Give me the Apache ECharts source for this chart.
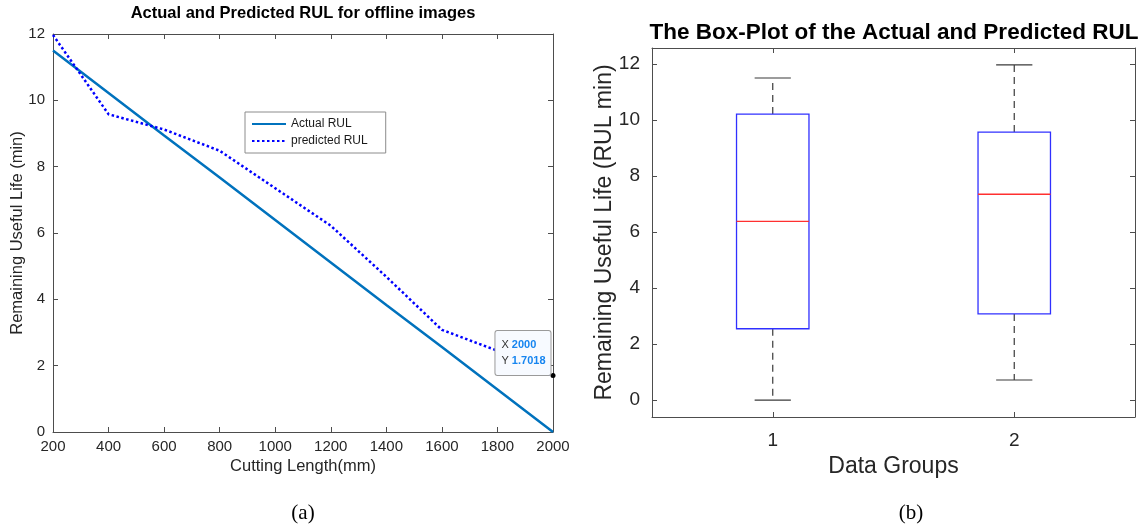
<!DOCTYPE html>
<html>
<head>
<meta charset="utf-8">
<script src="https://cdn.jsdelivr.net/npm/echarts@6/dist/echarts.min.js"></script>
<style>
  html, body { margin: 0; padding: 0; background: #fff; }
  #chart { width: 1146px; height: 528px; }
</style>
</head>
<body>
<div id="chart"></div>
<script>
// (a) RUL along the cutting length
const cuttingLength = [200, 400, 600, 800, 1000, 1200, 1400, 1600, 1800, 2000];
const actualRUL = [11.5, 10.22, 8.94, 7.67, 6.39, 5.11, 3.83, 2.56, 1.28, 0];
const predictedRUL = [11.97, 9.58, 9.12, 8.48, 7.35, 6.22, 4.68, 3.08, 2.45, 1.7018];

// (b) box statistics per group: [min, Q1, median, Q3, max]
const groups = ['1', '2'];
const boxStats = [
  [0, 2.55, 6.38, 10.21, 11.5],
  [0.72, 3.08, 7.35, 9.57, 11.97]
];
const rulTicks = [0, 2, 4, 6, 8, 10, 12];

const FONT = 'Liberation Sans, Arial, Helvetica, sans-serif';
const AXIS_COLOR = '#4d4d4d';
const TEXT_COLOR = '#262626';

const chart = echarts.init(document.getElementById('chart'), null, { renderer: 'canvas' });

function frameAxis(extra) {
  return Object.assign({
    axisLine: { show: true, onZero: false, lineStyle: { color: AXIS_COLOR, width: 1 } },
    axisTick: { show: true, inside: true, length: 5, lineStyle: { color: AXIS_COLOR } },
    splitLine: { show: false },
    nameMoveOverlap: false
  }, extra);
}

const tipIdx = cuttingLength.length - 1;
const tipX = cuttingLength[tipIdx];
const tipY = predictedRUL[tipIdx];

const option = {
  animation: false,
  textStyle: { fontFamily: FONT },
  grid: [
    { left: 53, right: 593, top: 34, bottom: 96 },
    { left: 652, right: 11, top: 48, bottom: 111 }
  ],
  xAxis: [
    frameAxis({
      type: 'value', gridIndex: 0, position: 'bottom', min: 200, max: 2000, interval: 200,
      name: 'Cutting Length(mm)', nameLocation: 'middle', nameGap: 26,
      nameTextStyle: { fontSize: 16.5, color: TEXT_COLOR },
      axisLabel: { fontSize: 15, color: TEXT_COLOR, margin: 7, formatter: v => String(v) }
    }),
    frameAxis({
      type: 'value', gridIndex: 0, position: 'top', min: 200, max: 2000, interval: 200,
      axisLabel: { show: false }
    }),
    frameAxis({
      type: 'category', gridIndex: 1, position: 'bottom', data: groups,
      axisTick: { show: true, inside: true, length: 5, alignWithLabel: true, lineStyle: { color: AXIS_COLOR } },
      name: 'Data Groups', nameLocation: 'middle', nameGap: 38,
      nameTextStyle: { fontSize: 23, color: TEXT_COLOR },
      axisLabel: { fontSize: 19, color: TEXT_COLOR, margin: 14 }
    }),
    frameAxis({
      type: 'category', gridIndex: 1, position: 'top', data: groups,
      axisTick: { show: true, inside: true, length: 5, alignWithLabel: true, lineStyle: { color: AXIS_COLOR } },
      axisLabel: { show: false }
    })
  ],
  yAxis: [
    frameAxis({
      type: 'value', gridIndex: 0, position: 'left', min: 0, max: 12, interval: 2,
      name: 'Remaining Useful Life (min)', nameLocation: 'middle', nameGap: 27,
      nameTextStyle: { fontSize: 16.5, color: TEXT_COLOR },
      axisLabel: { fontSize: 15, color: TEXT_COLOR, margin: 8 }
    }),
    frameAxis({
      type: 'value', gridIndex: 0, position: 'right', min: 0, max: 12, interval: 2,
      axisLabel: { show: false }
    }),
    frameAxis({
      type: 'value', gridIndex: 1, position: 'left', min: -0.6, max: 12.57,
      name: 'Remaining Useful Life (RUL min)', nameLocation: 'middle', nameGap: 36,
      nameTextStyle: { fontSize: 23, color: TEXT_COLOR },
      axisLabel: { fontSize: 19, color: TEXT_COLOR, margin: 12, customValues: rulTicks },
      axisTick: { show: true, inside: true, length: 5, customValues: rulTicks, lineStyle: { color: AXIS_COLOR } }
    }),
    frameAxis({
      type: 'value', gridIndex: 1, position: 'right', min: -0.6, max: 12.57,
      axisLabel: { show: false, customValues: rulTicks },
      axisTick: { show: true, inside: true, length: 5, customValues: rulTicks, lineStyle: { color: AXIS_COLOR } }
    })
  ],
  legend: {
    data: ['Actual RUL', 'predicted RUL'],
    orient: 'vertical',
    left: 245, top: 112,
    backgroundColor: '#fff',
    borderColor: '#8c8c8c', borderWidth: 1,
    padding: [6, 18, 6, 6],
    itemGap: 5, itemWidth: 34, itemHeight: 12,
    itemStyle: { opacity: 0 },
    textStyle: { fontSize: 12, color: '#1a1a1a', fontFamily: FONT }
  },
  series: [
    {
      name: 'Actual RUL', type: 'line', xAxisIndex: 0, yAxisIndex: 0,
      data: cuttingLength.map((x, i) => [x, actualRUL[i]]),
      symbol: 'none', color: '#0072BD',
      lineStyle: { color: '#0072BD', width: 2.5 }
    },
    {
      name: 'predicted RUL', type: 'line', xAxisIndex: 0, yAxisIndex: 0,
      data: cuttingLength.map((x, i) => [x, predictedRUL[i]]),
      symbol: 'none', color: '#0000FF',
      lineStyle: { color: '#0000FF', width: 2.5, type: [2.5, 2.5] },
      markPoint: {
        symbol: 'circle', symbolSize: 5,
        itemStyle: { color: '#000' },
        data: [{ coord: [tipX, tipY] }],
        label: {
          show: true,
          position: [0, 2],
          align: 'right', verticalAlign: 'bottom',
          backgroundColor: '#f7faff',
          borderColor: '#9a9a9a', borderWidth: 1, borderRadius: 2,
          padding: [6, 5, 6, 6],
          lineHeight: 16,
          formatter: () => '{k|X }{v|' + tipX + '}\n{k|Y }{v|' + tipY + '}',
          rich: {
            k: { fontSize: 11, color: '#333', fontFamily: FONT, lineHeight: 16, align: 'left' },
            v: { fontSize: 11, color: '#1685f0', fontWeight: 'bold', fontFamily: FONT, lineHeight: 16, align: 'left' }
          }
        }
      }
    },
    {
      name: 'box', type: 'custom', xAxisIndex: 2, yAxisIndex: 2,
      data: boxStats.map((s, i) => [i].concat(s)),
      encode: { x: 0, y: [1, 2, 3, 4, 5] },
      renderItem: function (params, api) {
        const i = api.value(0);
        const band = api.size([1, 0])[0];
        const boxW = band * 0.3;
        const capW = boxW * 0.5;
        const pLo = api.coord([i, api.value(1)]);
        const pQ1 = api.coord([i, api.value(2)]);
        const pMed = api.coord([i, api.value(3)]);
        const pQ3 = api.coord([i, api.value(4)]);
        const pHi = api.coord([i, api.value(5)]);
        const cx = pMed[0];
        const whisker = { stroke: '#3a3a3a', lineWidth: 1.2, lineDash: [7, 5] };
        const cap = { stroke: '#3a3a3a', lineWidth: 1.2 };
        return {
          type: 'group',
          children: [
            { type: 'line', shape: { x1: cx, y1: pQ3[1], x2: cx, y2: pHi[1] }, style: whisker },
            { type: 'line', shape: { x1: cx, y1: pQ1[1], x2: cx, y2: pLo[1] }, style: whisker },
            { type: 'line', shape: { x1: cx - capW / 2, y1: pHi[1], x2: cx + capW / 2, y2: pHi[1] }, style: cap },
            { type: 'line', shape: { x1: cx - capW / 2, y1: pLo[1], x2: cx + capW / 2, y2: pLo[1] }, style: cap },
            { type: 'rect', shape: { x: cx - boxW / 2, y: pQ3[1], width: boxW, height: pQ1[1] - pQ3[1] },
              style: { fill: 'none', stroke: '#3030ff', lineWidth: 1.3 } },
            { type: 'line', shape: { x1: cx - boxW / 2, y1: pMed[1], x2: cx + boxW / 2, y2: pMed[1] },
              style: { stroke: '#ff3030', lineWidth: 1.3 } }
          ]
        };
      }
    }
  ],
  graphic: [
    { type: 'text', x: 303, y: 13, style: { text: 'Actual and Predicted RUL for offline images', font: 'bold 16.5px ' + FONT, fill: '#000', align: 'center', verticalAlign: 'middle' } },
    { type: 'text', x: 894, y: 33, style: { text: 'The Box-Plot of the Actual and Predicted RUL', font: 'bold 22.5px ' + FONT, fill: '#000', align: 'center', verticalAlign: 'middle' } },
    { type: 'text', x: 303, y: 513, style: { text: '(a)', font: '21px Liberation Serif, Times New Roman, serif', fill: '#000', align: 'center', verticalAlign: 'middle' } },
    { type: 'text', x: 911, y: 513, style: { text: '(b)', font: '21px Liberation Serif, Times New Roman, serif', fill: '#000', align: 'center', verticalAlign: 'middle' } }
  ]
};

chart.setOption(option);
</script>
</body>
</html>
